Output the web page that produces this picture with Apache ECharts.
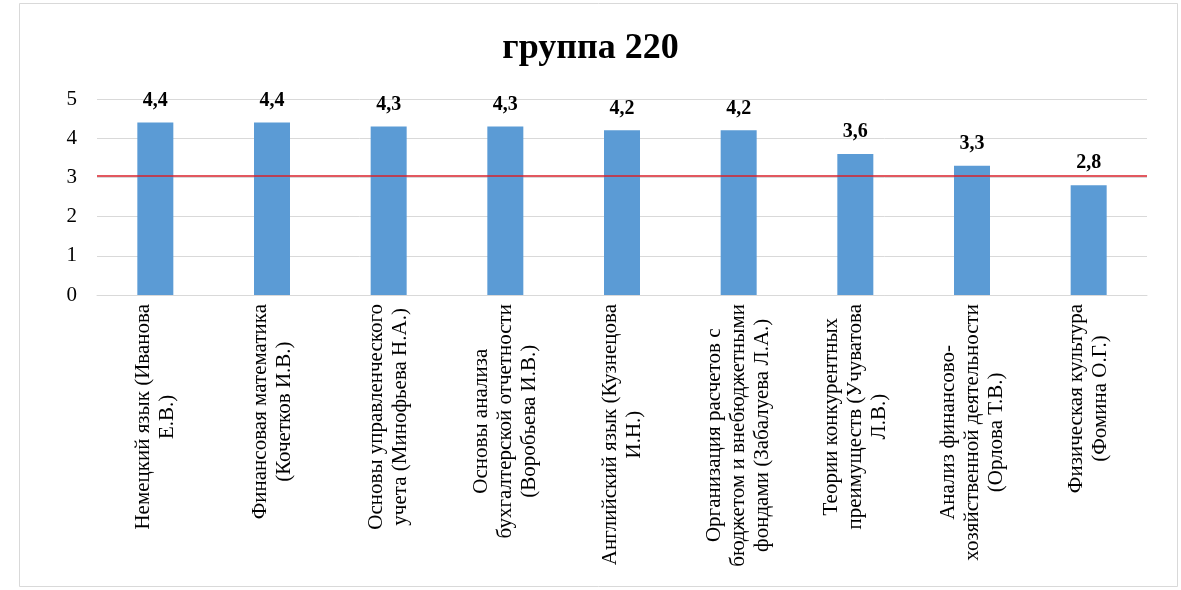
<!DOCTYPE html>
<html>
<head>
<meta charset="utf-8">
<script src="https://cdn.jsdelivr.net/npm/echarts@6/dist/echarts.min.js"></script>
<style>
html, body { margin: 0; padding: 0; background: #fff; }
#main { width: 1181px; height: 590px; }
</style>
</head>
<body>
<div id="main"></div>
<script>
// данные
var categories = [
    'Немецкий язык (Иванова\nЕ.В.)',
    'Финансовая математика\n(Кочетков И.В.)',
    'Основы управленческого\nучета (Минофьева Н.А.)',
    'Основы анализа\nбухгалтерской отчетности\n(Воробьева И.В.)',
    'Английский язык (Кузнецова\nИ.Н.)',
    'Организация расчетов с\nбюджетом и внебюджетными\nфондами (Забалуева Л.А.)',
    'Теории конкурентных\nпреимуществ (Учуватова\nЛ.В.)',
    'Анализ финансово-\nхозяйственной деятельности\n(Орлова Т.В.)',
    'Физическая культура\n(Фомина О.Г.)'
];
var scores = [4.4, 4.4, 4.3, 4.3, 4.2, 4.2, 3.6, 3.3, 2.8];
var thresholdLine = 3.05;
var yTicks = [0, 1, 2, 3, 4, 5];

var serif = '"Liberation Serif", "DejaVu Serif", serif';
var myChart = echarts.init(document.getElementById('main'));

myChart.setOption({
    animation: false,
    backgroundColor: '#fff',
    title: {
        text: 'группа 220',
        left: 'center',
        top: 26,
        textStyle: { fontFamily: serif, fontSize: 36, fontWeight: 'bold', color: '#000' }
    },
    graphic: [{
        type: 'rect',
        shape: { x: 19.5, y: 3.5, width: 1158, height: 583 },
        style: { fill: null, stroke: '#d9d9d9', lineWidth: 1 },
        silent: true
    }],
    grid: { left: 97, right: 34, top: 99, bottom: 295 },
    xAxis: {
        type: 'category',
        data: categories,
        axisLine: { lineStyle: { color: '#d9d9d9' } },
        axisTick: { show: false },
        axisLabel: {
            interval: 0,
            rotate: 90,
            margin: 9,
            lineHeight: 24,
            formatter: function (val) {
                return val.split('\n').map(function (s) { return '{c|' + s + '}'; }).join('\n');
            },
            rich: {
                c: { align: 'center', fontFamily: serif, fontSize: 21, color: '#000', lineHeight: 24 }
            }
        }
    },
    yAxis: {
        type: 'value',
        min: 0,
        max: 5,
        interval: 1,
        axisLine: { show: false },
        axisTick: { show: false },
        axisLabel: {
            margin: 20,
            fontFamily: serif,
            fontSize: 21,
            color: '#000',
            formatter: function (v) { return yTicks.indexOf(v) >= 0 ? String(v) : ''; }
        },
        splitLine: { lineStyle: { color: '#d9d9d9' } }
    },
    series: [{
        type: 'bar',
        data: scores,
        barWidth: 36,
        itemStyle: { color: '#5b9bd5' },
        label: {
            show: true,
            position: 'top',
            distance: 12,
            fontFamily: serif,
            fontSize: 20,
            fontWeight: 'bold',
            color: '#000',
            formatter: function (p) { return String(p.value).replace('.', ','); }
        },
        markLine: {
            silent: true,
            symbol: 'none',
            label: { show: false },
            lineStyle: { color: '#d8202a', type: 'solid', width: 1.6 },
            data: [{ yAxis: thresholdLine }]
        }
    }]
});
</script>
</body>
</html>
